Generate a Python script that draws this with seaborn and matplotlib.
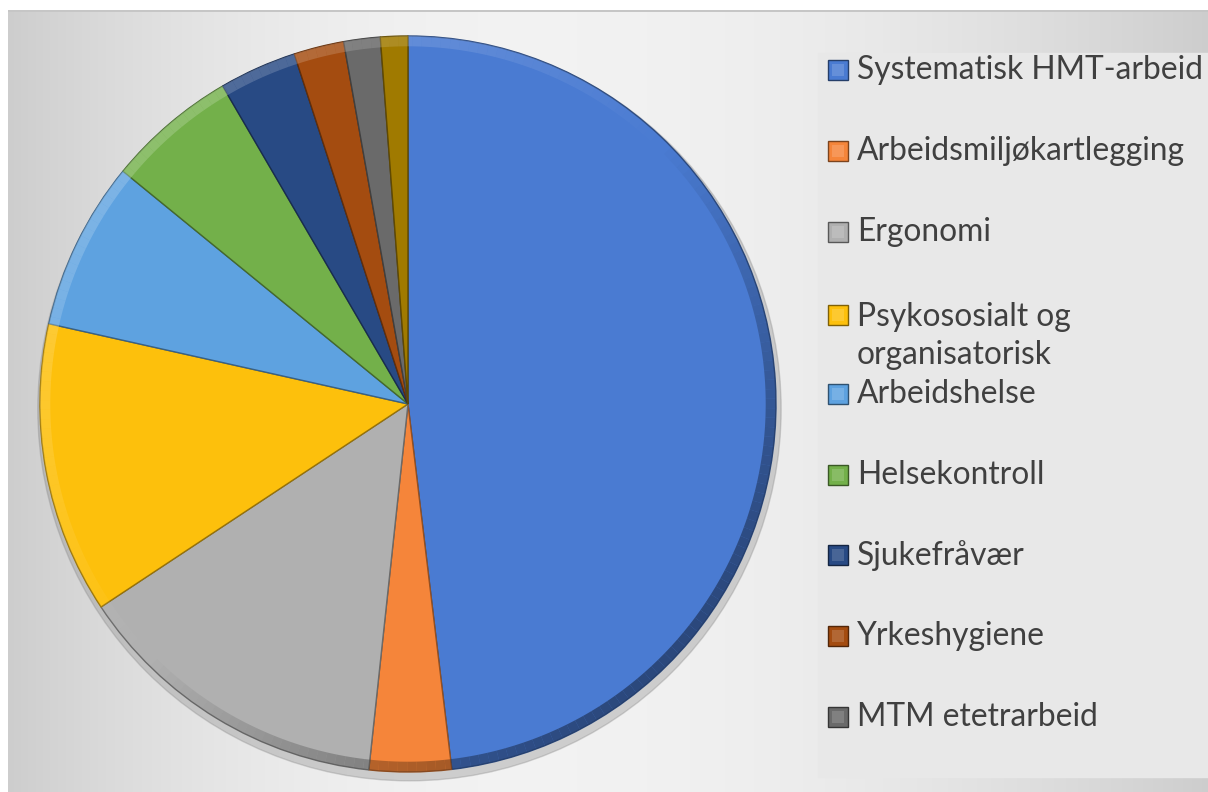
import numpy as np
import matplotlib
matplotlib.use("Agg")
import matplotlib.pyplot as plt
import matplotlib.colors as mcolors
from matplotlib import font_manager
from matplotlib.patches import Wedge, Rectangle, Circle
import seaborn as sns

# Data (share of total, %)
categories = ["Systematisk HMT-arbeid", "Arbeidsmiljøkartlegging", "Ergonomi",
              "Psykososialt og\norganisatorisk", "Arbeidshelse", "Helsekontroll",
              "Sjukefråvær", "Yrkeshygiene", "MTM etetrarbeid", "Annet"]
shares = [48.1, 3.6, 14.0, 12.8, 7.4, 5.7, 3.4, 2.2, 1.6, 1.2]
colors = ["#4a7bd2", "#f5853a", "#b0b0b0", "#fdc00c", "#5ea2e0", "#73b04a",
          "#284a84", "#a44c10", "#6a6a6a", "#a07a00"]
n_legend = 9  # the legend in the reference is cut off after 9 entries

W, H = 1208, 792


def shade(c, f):
    r, g, b = mcolors.to_rgb(c)
    if f < 1:
        return (r * f, g * f, b * f)
    return (r + (1 - r) * (f - 1), g + (1 - g) * (f - 1), b + (1 - b) * (f - 1))


def pick_font(names):
    for n in names:
        try:
            font_manager.findfont(font_manager.FontProperties(family=n),
                                  fallback_to_default=False)
            return n
        except Exception:
            pass
    return 'DejaVu Sans'


sns.set_theme(style="white")
font = pick_font(['Liberation Sans Narrow', 'Lato'])
plt.rcParams['font.family'] = [font, 'DejaVu Sans']

fig = plt.figure(figsize=(W / 100, H / 100), dpi=100)

# background gradient
bg = fig.add_axes([0, 0, 1, 1])
xs = np.arange(W)
scale = np.where(xs < 520, 520.0, 700.0)
row = 0.95 - 0.15 * ((xs - 520) / scale) ** 2
img = np.tile(row, (H, 1))
img[:10, :] = 1.0
img[:, :8] = 1.0
img[10:12, 8:] = 0.78
bg.imshow(np.dstack([img] * 3), aspect='auto', extent=(0, W, H, 0))
bg.set_xlim(0, W)
bg.set_ylim(H, 0)
bg.axis('off')

# legend panel
bg.add_patch(Rectangle((818, 53), W - 818, 724, color='#e8e8e8', zorder=2))

# pie
R = 368
cx, cy = 408, 404
lim = 1.04
half = R * lim
ax = fig.add_axes([(cx - half) / W, (H - cy - half) / H, 2 * half / W, 2 * half / H])
ax.add_patch(Circle((0.004, -0.014), 1.01, color='#8a8a8a', alpha=0.35, zorder=0))
wedges, _ = ax.pie(shares, colors=colors, startangle=90, counterclock=False,
                   radius=1, wedgeprops=dict(linewidth=0))
step = 1.5
for w, c in zip(wedges, colors):
    w.set_edgecolor(shade(c, 0.6))
    w.set_linewidth(1.0)
    w.set_zorder(2)
    t1, t2 = w.theta1, w.theta2
    # soft bevel on the rim, lit from the upper left
    a = t1
    while a < t2 - 1e-6:
        b = min(a + step, t2)
        light = np.cos(np.radians((a + b) / 2 - 135))
        if light > 0:
            fc, al = shade(c, 1.35), 0.55 * light
        else:
            fc, al = shade(c, 0.45), 0.75 * -light
        ax.add_patch(Wedge(w.center, 1.0, a, b, width=0.028, facecolor=fc,
                           edgecolor='none', alpha=al, zorder=3))
        a = b
ax.set_xlim(-lim, lim)
ax.set_ylim(-lim, lim)
ax.set_aspect('equal')
ax.axis('off')

# legend, drawn by hand to match the slot layout of the reference
renderer = fig.canvas.get_renderer()
probe = fig.text(0, 0, categories[0], fontsize=28)
wpx = probe.get_window_extent(renderer).width
probe.remove()
fs = 28 * 346 / wpx
line_px = 42
fs_px = fs * 100 / 72
y0, gap = 70, 80.9
for i in range(n_legend):
    y = y0 + i * gap
    if i == 3:
        y = 315
    nl = categories[i].count('\n')
    bg.add_patch(Rectangle((828, y - 10), 20, 20, facecolor=colors[i],
                           edgecolor=shade(colors[i], 0.5), linewidth=1, zorder=3))
    bg.add_patch(Rectangle((832, y - 6), 12, 12, facecolor=shade(colors[i], 1.15),
                           edgecolor='none', zorder=4))
    bg.text(857, y + nl * line_px / 2, categories[i], fontsize=fs, color='#404040',
            va='center', ha='left', linespacing=line_px / fs_px, zorder=5)

fig.savefig("out.png", dpi=100)
